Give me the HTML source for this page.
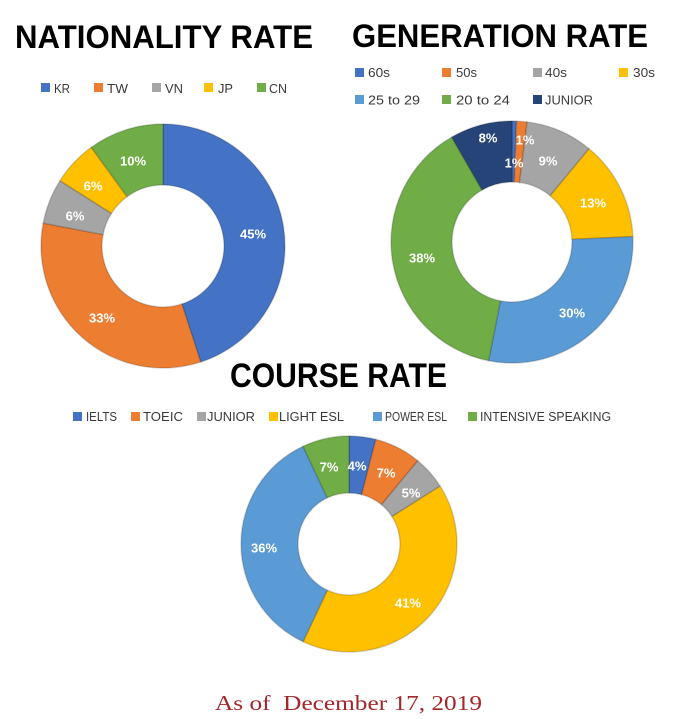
<!DOCTYPE html>
<html><head><meta charset="utf-8"><style>
html,body{margin:0;padding:0;background:#fff;}
svg{display:block;}
text{font-family:"Liberation Sans",sans-serif;}
.t{font-weight:bold;fill:#000;font-size:32px;}
.lg{font-size:13px;fill:#3a3a3a;}
.pl{font-size:13px;font-weight:bold;fill:#fff;text-anchor:middle;}
.s{stroke:rgba(0,0,0,0.16);stroke-width:1.5;stroke-linejoin:round;}
</style></head><body>
<svg width="675" height="719" viewBox="0 0 675 719" xmlns="http://www.w3.org/2000/svg">
<rect width="675" height="719" fill="#fff"/>
<!-- Titles -->
<text class="t" x="15" y="48" textLength="298" lengthAdjust="spacingAndGlyphs">NATIONALITY RATE</text>
<text class="t" x="352" y="47" textLength="296" lengthAdjust="spacingAndGlyphs">GENERATION RATE</text>
<text class="t" x="230" y="387" style="font-size:34px" textLength="217" lengthAdjust="spacingAndGlyphs">COURSE RATE</text>

<!-- Nationality legend -->
<rect x="41" y="83" width="9" height="9" fill="#4472C4"/><text class="lg" x="54" y="93" textLength="16" lengthAdjust="spacingAndGlyphs">KR</text>
<rect x="94" y="83" width="9" height="9" fill="#ED7D31"/><text class="lg" x="107" y="93" textLength="21" lengthAdjust="spacingAndGlyphs">TW</text>
<rect x="152" y="83" width="9" height="9" fill="#A5A5A5"/><text class="lg" x="165" y="93" textLength="18" lengthAdjust="spacingAndGlyphs">VN</text>
<rect x="204" y="83" width="9" height="9" fill="#FFC000"/><text class="lg" x="218" y="93" textLength="15" lengthAdjust="spacingAndGlyphs">JP</text>
<rect x="257" y="83" width="9" height="9" fill="#70AD47"/><text class="lg" x="269" y="93" textLength="18" lengthAdjust="spacingAndGlyphs">CN</text>

<!-- Generation legend -->
<rect x="355" y="68" width="9" height="9" fill="#4472C4"/><text class="lg" x="368" y="77" textLength="22" lengthAdjust="spacingAndGlyphs">60s</text>
<rect x="442" y="68" width="9" height="9" fill="#ED7D31"/><text class="lg" x="456" y="77" textLength="21" lengthAdjust="spacingAndGlyphs">50s</text>
<rect x="533" y="68" width="9" height="9" fill="#A5A5A5"/><text class="lg" x="545" y="77" textLength="22" lengthAdjust="spacingAndGlyphs">40s</text>
<rect x="619" y="68" width="9" height="9" fill="#FFC000"/><text class="lg" x="633" y="77" textLength="22" lengthAdjust="spacingAndGlyphs">30s</text>
<rect x="355" y="95" width="9" height="9" fill="#5B9BD5"/><text class="lg" x="368" y="104.5" textLength="52" lengthAdjust="spacingAndGlyphs">25 to 29</text>
<rect x="442" y="95" width="9" height="9" fill="#70AD47"/><text class="lg" x="456" y="104.5" textLength="54" lengthAdjust="spacingAndGlyphs">20 to 24</text>
<rect x="533" y="95" width="9" height="9" fill="#264478"/><text class="lg" x="545" y="104.5" textLength="48" lengthAdjust="spacingAndGlyphs">JUNIOR</text>

<!-- Course legend -->
<rect x="73" y="412" width="9" height="9" fill="#4472C4"/><text class="lg" x="86" y="421" textLength="31" lengthAdjust="spacingAndGlyphs">IELTS</text>
<rect x="131" y="412" width="9" height="9" fill="#ED7D31"/><text class="lg" x="143" y="421" textLength="40" lengthAdjust="spacingAndGlyphs">TOEIC</text>
<rect x="197" y="412" width="9" height="9" fill="#A5A5A5"/><text class="lg" x="207" y="421" textLength="48" lengthAdjust="spacingAndGlyphs">JUNIOR</text>
<rect x="269" y="412" width="9" height="9" fill="#FFC000"/><text class="lg" x="279" y="421" textLength="65" lengthAdjust="spacingAndGlyphs">LIGHT ESL</text>
<rect x="373" y="412" width="9" height="9" fill="#5B9BD5"/><text class="lg" x="385" y="421" textLength="62" lengthAdjust="spacingAndGlyphs">POWER ESL</text>
<rect x="468" y="412" width="9" height="9" fill="#70AD47"/><text class="lg" x="480" y="421" textLength="131" lengthAdjust="spacingAndGlyphs">INTENSIVE SPEAKING</text>

<!-- Nationality donut: cx163 cy246 R122 r61 -->
<g class="s">
<path fill="#4472C4" d="M163 124 A122 122 0 0 1 200.70 362.03 L181.85 304.02 A61 61 0 0 0 163 185 Z"/>
<path fill="#ED7D31" d="M200.70 362.03 A122 122 0 0 1 43.16 223.14 L103.08 234.57 A61 61 0 0 0 181.85 304.02 Z"/>
<path fill="#A5A5A5" d="M43.16 223.14 A122 122 0 0 1 60.00 180.63 L111.50 213.32 A61 61 0 0 0 103.08 234.57 Z"/>
<path fill="#FFC000" d="M60.00 180.63 A122 122 0 0 1 91.29 147.30 L127.14 196.65 A61 61 0 0 0 111.50 213.32 Z"/>
<path fill="#70AD47" d="M91.29 147.30 A122 122 0 0 1 163 124 L163 185 A61 61 0 0 0 127.14 196.65 Z"/>
</g>
<text class="pl" x="253" y="238.5">45%</text>
<text class="pl" x="102" y="322.5">33%</text>
<text class="pl" x="75" y="220.5">6%</text>
<text class="pl" x="93" y="190.5">6%</text>
<text class="pl" x="133" y="165.5">10%</text>

<!-- Generation donut: cx512 cy242 R121 r60 -->
<g class="s">
<path fill="#4472C4" d="M512 121 A121 121 0 0 1 516.56 121.09 L514.26 182.04 A60 60 0 0 0 512 182 Z"/>
<path fill="#ED7D31" d="M516.56 121.09 A121 121 0 0 1 527.17 121.95 L519.52 182.47 A60 60 0 0 0 514.26 182.04 Z"/>
<path fill="#A5A5A5" d="M527.17 121.95 A121 121 0 0 1 589.13 148.77 L550.25 195.77 A60 60 0 0 0 519.52 182.47 Z"/>
<path fill="#FFC000" d="M589.13 148.77 A121 121 0 0 1 632.88 236.68 L571.94 239.36 A60 60 0 0 0 550.25 195.77 Z"/>
<path fill="#5B9BD5" d="M632.88 236.68 A121 121 0 0 1 488.58 360.71 L500.39 300.87 A60 60 0 0 0 571.94 239.36 Z"/>
<path fill="#70AD47" d="M488.58 360.71 A121 121 0 0 1 451.72 137.08 L482.11 189.98 A60 60 0 0 0 500.39 300.87 Z"/>
<path fill="#264478" d="M451.72 137.08 A121 121 0 0 1 512 121 L512 182 A60 60 0 0 0 482.11 189.98 Z"/>
</g>
<text class="pl" x="488" y="142.5">8%</text>
<text class="pl" x="525" y="144.5">1%</text>
<text class="pl" x="514" y="167.5">1%</text>
<text class="pl" x="548" y="165.5">9%</text>
<text class="pl" x="593" y="207.5">13%</text>
<text class="pl" x="572" y="317.5">30%</text>
<text class="pl" x="422" y="262.5">38%</text>

<!-- Course donut: cx349 cy544 R108 r51 -->
<g class="s">
<path fill="#4472C4" d="M349 436 A108 108 0 0 1 375.86 439.39 L361.68 494.60 A51 51 0 0 0 349 493 Z"/>
<path fill="#ED7D31" d="M375.86 439.39 A108 108 0 0 1 417.84 460.78 L381.51 504.70 A51 51 0 0 0 361.68 494.60 Z"/>
<path fill="#A5A5A5" d="M417.84 460.78 A108 108 0 0 1 440.19 486.13 L392.06 516.67 A51 51 0 0 0 381.51 504.70 Z"/>
<path fill="#FFC000" d="M440.19 486.13 A108 108 0 0 1 303.02 641.72 L327.29 590.15 A51 51 0 0 0 392.06 516.67 Z"/>
<path fill="#5B9BD5" d="M303.02 641.72 A108 108 0 0 1 303.02 446.28 L327.29 497.85 A51 51 0 0 0 327.29 590.15 Z"/>
<path fill="#70AD47" d="M303.02 446.28 A108 108 0 0 1 349 436 L349 493 A51 51 0 0 0 327.29 497.85 Z"/>
</g>
<text class="pl" x="329" y="471.5">7%</text>
<text class="pl" x="357" y="470.5">4%</text>
<text class="pl" x="386" y="477.5">7%</text>
<text class="pl" x="411" y="497.5">5%</text>
<text class="pl" x="408" y="607.5">41%</text>
<text class="pl" x="264" y="552.5">36%</text>

<!-- Footer -->
<text x="215" y="710" style="font-family:'Liberation Serif',serif;font-size:21px;fill:#A3262A;white-space:pre" textLength="267" lengthAdjust="spacingAndGlyphs">As of  December 17, 2019</text>
</svg>
</body></html>
